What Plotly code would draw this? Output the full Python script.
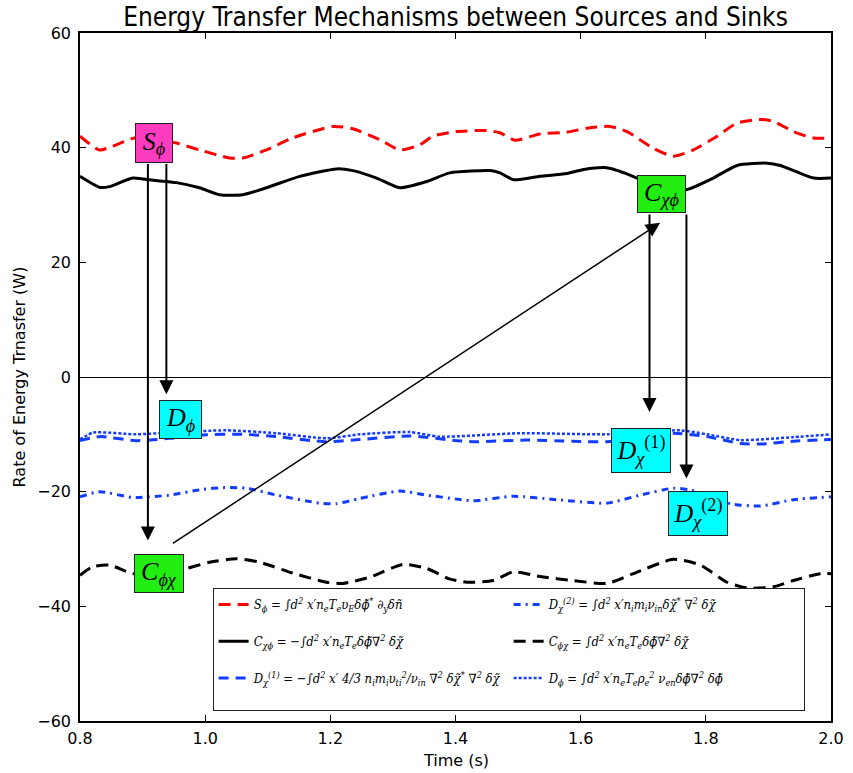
import plotly.graph_objects as go

# ---------------- data ----------------
t_S = [0.800, 0.831, 0.851, 0.887, 0.920, 0.954, 0.991, 1.039, 1.060, 1.098, 1.140, 1.204,
       1.236, 1.279, 1.311, 1.343, 1.364, 1.402, 1.450, 1.471, 1.495, 1.535, 1.578, 1.610,
       1.647, 1.674, 1.716, 1.748, 1.780, 1.818, 1.850, 1.887, 1.908, 1.940, 1.972, 2.000]
S_phi = [42.0, 39.6, 40.2, 41.7, 41.5, 40.8, 39.6, 38.2, 38.2, 39.6, 41.7, 43.7,
         43.3, 41.4, 39.6, 40.5, 42.0, 42.8, 43.0, 42.6, 41.3, 42.4, 42.7, 43.4,
         43.7, 42.8, 39.9, 38.5, 39.6, 42.0, 44.3, 44.9, 44.6, 42.8, 41.7, 41.7]

t_Cxp = [0.800, 0.831, 0.847, 0.884, 0.917, 0.954, 0.991, 1.023, 1.060, 1.098, 1.151, 1.210,
         1.236, 1.274, 1.311, 1.354, 1.391, 1.455, 1.471, 1.493, 1.535, 1.578, 1.605, 1.642,
         1.690, 1.730, 1.770, 1.812, 1.850, 1.898, 1.919, 1.972, 2.000]
C_chiphi = [35.0, 33.1, 33.2, 34.7, 34.3, 33.9, 33.0, 31.8, 31.8, 33.0, 35.0, 36.3,
            36.0, 34.7, 33.0, 34.1, 35.6, 36.0, 35.6, 34.4, 35.0, 35.5, 36.2, 36.5,
            34.7, 32.5, 32.7, 34.7, 36.9, 37.3, 36.9, 34.7, 34.7]

t_D1 = [0.800, 0.831, 0.890, 0.943, 0.996, 1.060, 1.114, 1.194, 1.247, 1.327, 1.402, 1.428,
        1.514, 1.588, 1.642, 1.700, 1.748, 1.802, 1.855, 1.887, 1.940, 2.000]
D_chi1 = [-11.1, -10.4, -11.1, -10.7, -10.1, -10.0, -10.4, -11.3, -10.9, -10.3, -11.1, -11.3,
          -11.0, -11.2, -11.3, -10.5, -9.8, -10.4, -11.6, -11.7, -11.2, -10.9]

t_D2 = [0.800, 0.831, 0.884, 0.943, 0.996, 1.028, 1.066, 1.114, 1.183, 1.210, 1.247, 1.311,
        1.354, 1.402, 1.428, 1.492, 1.562, 1.642, 1.695, 1.748, 1.775, 1.839, 1.887, 1.940, 2.000]
D_chi2 = [-20.9, -20.0, -21.0, -20.6, -19.6, -19.3, -19.4, -20.6, -22.0, -22.1, -21.2, -19.9,
          -20.6, -21.3, -21.6, -20.8, -21.4, -22.0, -20.6, -19.4, -19.7, -22.1, -22.5, -21.4, -20.9]

t_Cpx = [0.800, 0.820, 0.847, 0.884, 0.927, 0.970, 1.007, 1.050, 1.087, 1.140, 1.194, 1.220,
         1.263, 1.316, 1.354, 1.390, 1.418, 1.460, 1.492, 1.535, 1.588, 1.642, 1.684, 1.748,
         1.791, 1.834, 1.866, 1.908, 1.940, 1.983, 2.000]
C_phichi = [-34.6, -33.1, -32.8, -34.3, -34.5, -33.4, -32.3, -31.7, -32.3, -34.2, -35.8, -36.0,
            -34.9, -32.7, -33.4, -35.2, -35.8, -35.5, -34.0, -34.8, -35.5, -36.0, -34.3, -31.8,
            -32.8, -35.8, -36.8, -36.6, -35.5, -34.3, -34.3]

t_Dp = [0.800, 0.821, 0.890, 0.943, 1.034, 1.114, 1.194, 1.247, 1.327, 1.375, 1.503, 1.642,
        1.759, 1.802, 1.855, 1.940, 2.000]
D_phi = [-10.9, -9.7, -10.0, -9.7, -9.3, -9.8, -10.7, -10.0, -9.6, -10.4, -9.8, -10.0,
         -9.3, -10.0, -11.0, -10.5, -10.0]

x_ticks = [0.8, 1.0, 1.2, 1.4, 1.6, 1.8, 2.0]
x_ticklabels = ["0.8", "1.0", "1.2", "1.4", "1.6", "1.8", "2.0"]
y_ticks = [-60, -40, -20, 0, 20, 40, 60]
y_ticklabels = ["\u221260", "\u221240", "\u221220", "0", "20", "40", "60"]

names = {
    "S": "S<sub>\u03d5</sub> = \u222bd<sup>2</sup> x\u2032n<sub>e</sub>T<sub>e</sub>\u03c5<sub>E</sub>\u03b4\u03d5\u0303<sup>*</sup> \u2202<sub>y</sub>\u03b4n\u0303",
    "Cxp": "C<sub>\u03c7\u03d5</sub> = \u2212\u222bd<sup>2</sup> x\u2032n<sub>e</sub>T<sub>e</sub>\u03b4\u03d5\u0303\u2207<sup>2</sup> \u03b4\u03c7\u0303",
    "D1": "D<sub>\u03c7</sub><sup>(1)</sup> = \u2212\u222bd<sup>2</sup> x\u2032 4/3 n<sub>i</sub>m<sub>i</sub>\u03c5<sub>ti</sub><sup>2</sup>/\u03bd<sub>in</sub> \u2207<sup>2</sup> \u03b4\u03c7\u0303<sup>*</sup> \u2207<sup>2</sup> \u03b4\u03c7\u0303",
    "D2": "D<sub>\u03c7</sub><sup>(2)</sup> = \u222bd<sup>2</sup> x\u2032n<sub>i</sub>m<sub>i</sub>\u03bd<sub>in</sub>\u03b4\u03c7\u0303<sup>*</sup> \u2207<sup>2</sup> \u03b4\u03c7\u0303",
    "Cpx": "C<sub>\u03d5\u03c7</sub> = \u222bd<sup>2</sup> x\u2032n<sub>e</sub>T<sub>e</sub>\u03b4\u03d5\u0303\u2207<sup>2</sup> \u03b4\u03c7\u0303",
    "Dp": "D<sub>\u03d5</sub> = \u222bd<sup>2</sup> x\u2032n<sub>e</sub>T<sub>e</sub>\u03c1<sub>e</sub><sup>2</sup> \u03bd<sub>en</sub>\u03b4\u03d5\u0303\u2207<sup>2</sup> \u03b4\u03d5\u0303",
}

BLUE = "rgb(20,60,255)"

fig = go.Figure()

def add(x, y, name, color, dash, width, rank):
    fig.add_trace(go.Scatter(
        x=x, y=y, mode="lines", name=name + "<br>&nbsp;", legendrank=rank,
        line=dict(color=color, dash=dash, width=width, shape="spline", smoothing=0.6),
    ))

add(t_S, S_phi, names["S"], "rgb(255,0,0)", "12px,7px", 3, 1)
add(t_Cxp, C_chiphi, names["Cxp"], "black", "solid", 3, 3)
add(t_D1, D_chi1, names["D1"], BLUE, "10px,7px", 3, 5)
add(t_D2, D_chi2, names["D2"], BLUE, "7px,5px,2px,5px", 3, 2)
add(t_Cpx, C_phichi, names["Cpx"], "black", "12px,7px", 3, 4)
add(t_Dp, D_phi, names["Dp"], BLUE, "3px,2px", 2.5, 6)

# ---------------- boxes (labels) ----------------
boxes = [
    ("<i>S</i><sub><i>\u03d5</i></sub>", 0.9176, 40.9, 36, 38, "#ff3cc0"),
    ("<i>D</i><sub><i>\u03d5</i></sub>", 0.961, -7.4, 41, 37, "#00ffff"),
    ("<i>C</i><sub><i>\u03d5\u03c7</i></sub>", 0.927, -34.3, 48, 37, "#22ee11"),
    ("<i>C</i><sub><i>\u03c7\u03d5</i></sub>", 1.729, 32.0, 47, 36, "#22ee11"),
    ("<i>D</i><sub><i>\u03c7</i></sub><sup>(1)</sup>", 1.697, -12.75, 58, 43, "#00ffff"),
    ("<i>D</i><sub><i>\u03c7</i></sub><sup>(2)</sup>", 1.787, -23.8, 58, 43, "#00ffff"),
]
annotations = []
for txt, bx, by, w, h, col in boxes:
    annotations.append(dict(
        x=bx, y=by, xref="x", yref="y", text=txt, showarrow=False,
        width=w, height=h, bgcolor=col, bordercolor="#222222", borderwidth=1, borderpad=0,
        font=dict(family="Liberation Serif", size=26, color="black"),
        align="center", valign="middle",
    ))

# arrows: (head x, head y, tail x, tail y, line width, size)
arrows = [
    (0.9085, -28.5, 0.9085, 37.4, 2, 1.4),
    (0.938, -3.0, 0.938, 37.4, 2, 1.4),
    (1.710, -6.1, 1.710, 28.6, 2, 1.4),
    (1.769, -17.7, 1.769, 28.6, 2, 1.4),
    (1.727, 26.9, 0.946, -29.2, 1.5, 1.9),
]
for hx, hy, tx, ty, w, s in arrows:
    annotations.append(dict(
        x=hx, y=hy, ax=tx, ay=ty, xref="x", yref="y", axref="x", ayref="y",
        text="", showarrow=True, arrowhead=2, arrowsize=s, arrowwidth=w,
        arrowcolor="black", standoff=0, startstandoff=0,
    ))

# x-axis title as paper-anchored text
annotations.append(dict(
    text="Time (s)", x=0.5, y=-0.057, xref="paper", yref="paper",
    xanchor="center", yanchor="middle", showarrow=False,
    font=dict(family="DejaVu Sans", size=16, color="black"),
))

axis_common = dict(
    showline=True, linecolor="black", linewidth=1.5, mirror="ticks",
    ticks="inside", ticklen=6, tickwidth=1, tickcolor="black", automargin=False,
    showgrid=False, tickfont=dict(family="DejaVu Sans", size=16, color="black"),
)

fig.update_layout(
    width=853, height=773,
    margin=dict(l=80, r=22, t=33, b=52),
    paper_bgcolor="white", plot_bgcolor="white",
    title=dict(text="Energy Transfer Mechanisms between Sources and Sinks",
               x=0.5, xref="paper", xanchor="center", y=1 - 16.5 / 773, yref="container",
               yanchor="middle",
               font=dict(family="DejaVu Sans Condensed, DejaVu Sans", size=26, color="black")),
    xaxis=dict(range=[0.8, 2.0], tickvals=x_ticks, ticktext=x_ticklabels,
               ticklabelstandoff=2, **axis_common),
    yaxis=dict(range=[-60, 60], tickvals=y_ticks, ticktext=y_ticklabels,
               zeroline=True, zerolinecolor="black", zerolinewidth=1,
               title=dict(text="Rate of Energy Trnasfer (W)", font=dict(family="DejaVu Sans", size=16, color="black"), standoff=8),
               ticklabelstandoff=4, **axis_common),
    legend=dict(x=0.1766, y=0.0139, xanchor="left", yanchor="bottom", orientation="h",
                entrywidth=250, entrywidthmode="pixels", valign="top",
                bgcolor="white", bordercolor="#222222", borderwidth=1,
                font=dict(family="DejaVu Serif Condensed, DejaVu Serif", size=13, color="black", style="italic"),
                traceorder="normal"),
    annotations=annotations,
    showlegend=True,
)

fig.write_html("out.html", config={"displayModeBar": False},
               post_script="document.body.style.margin='0px';")
